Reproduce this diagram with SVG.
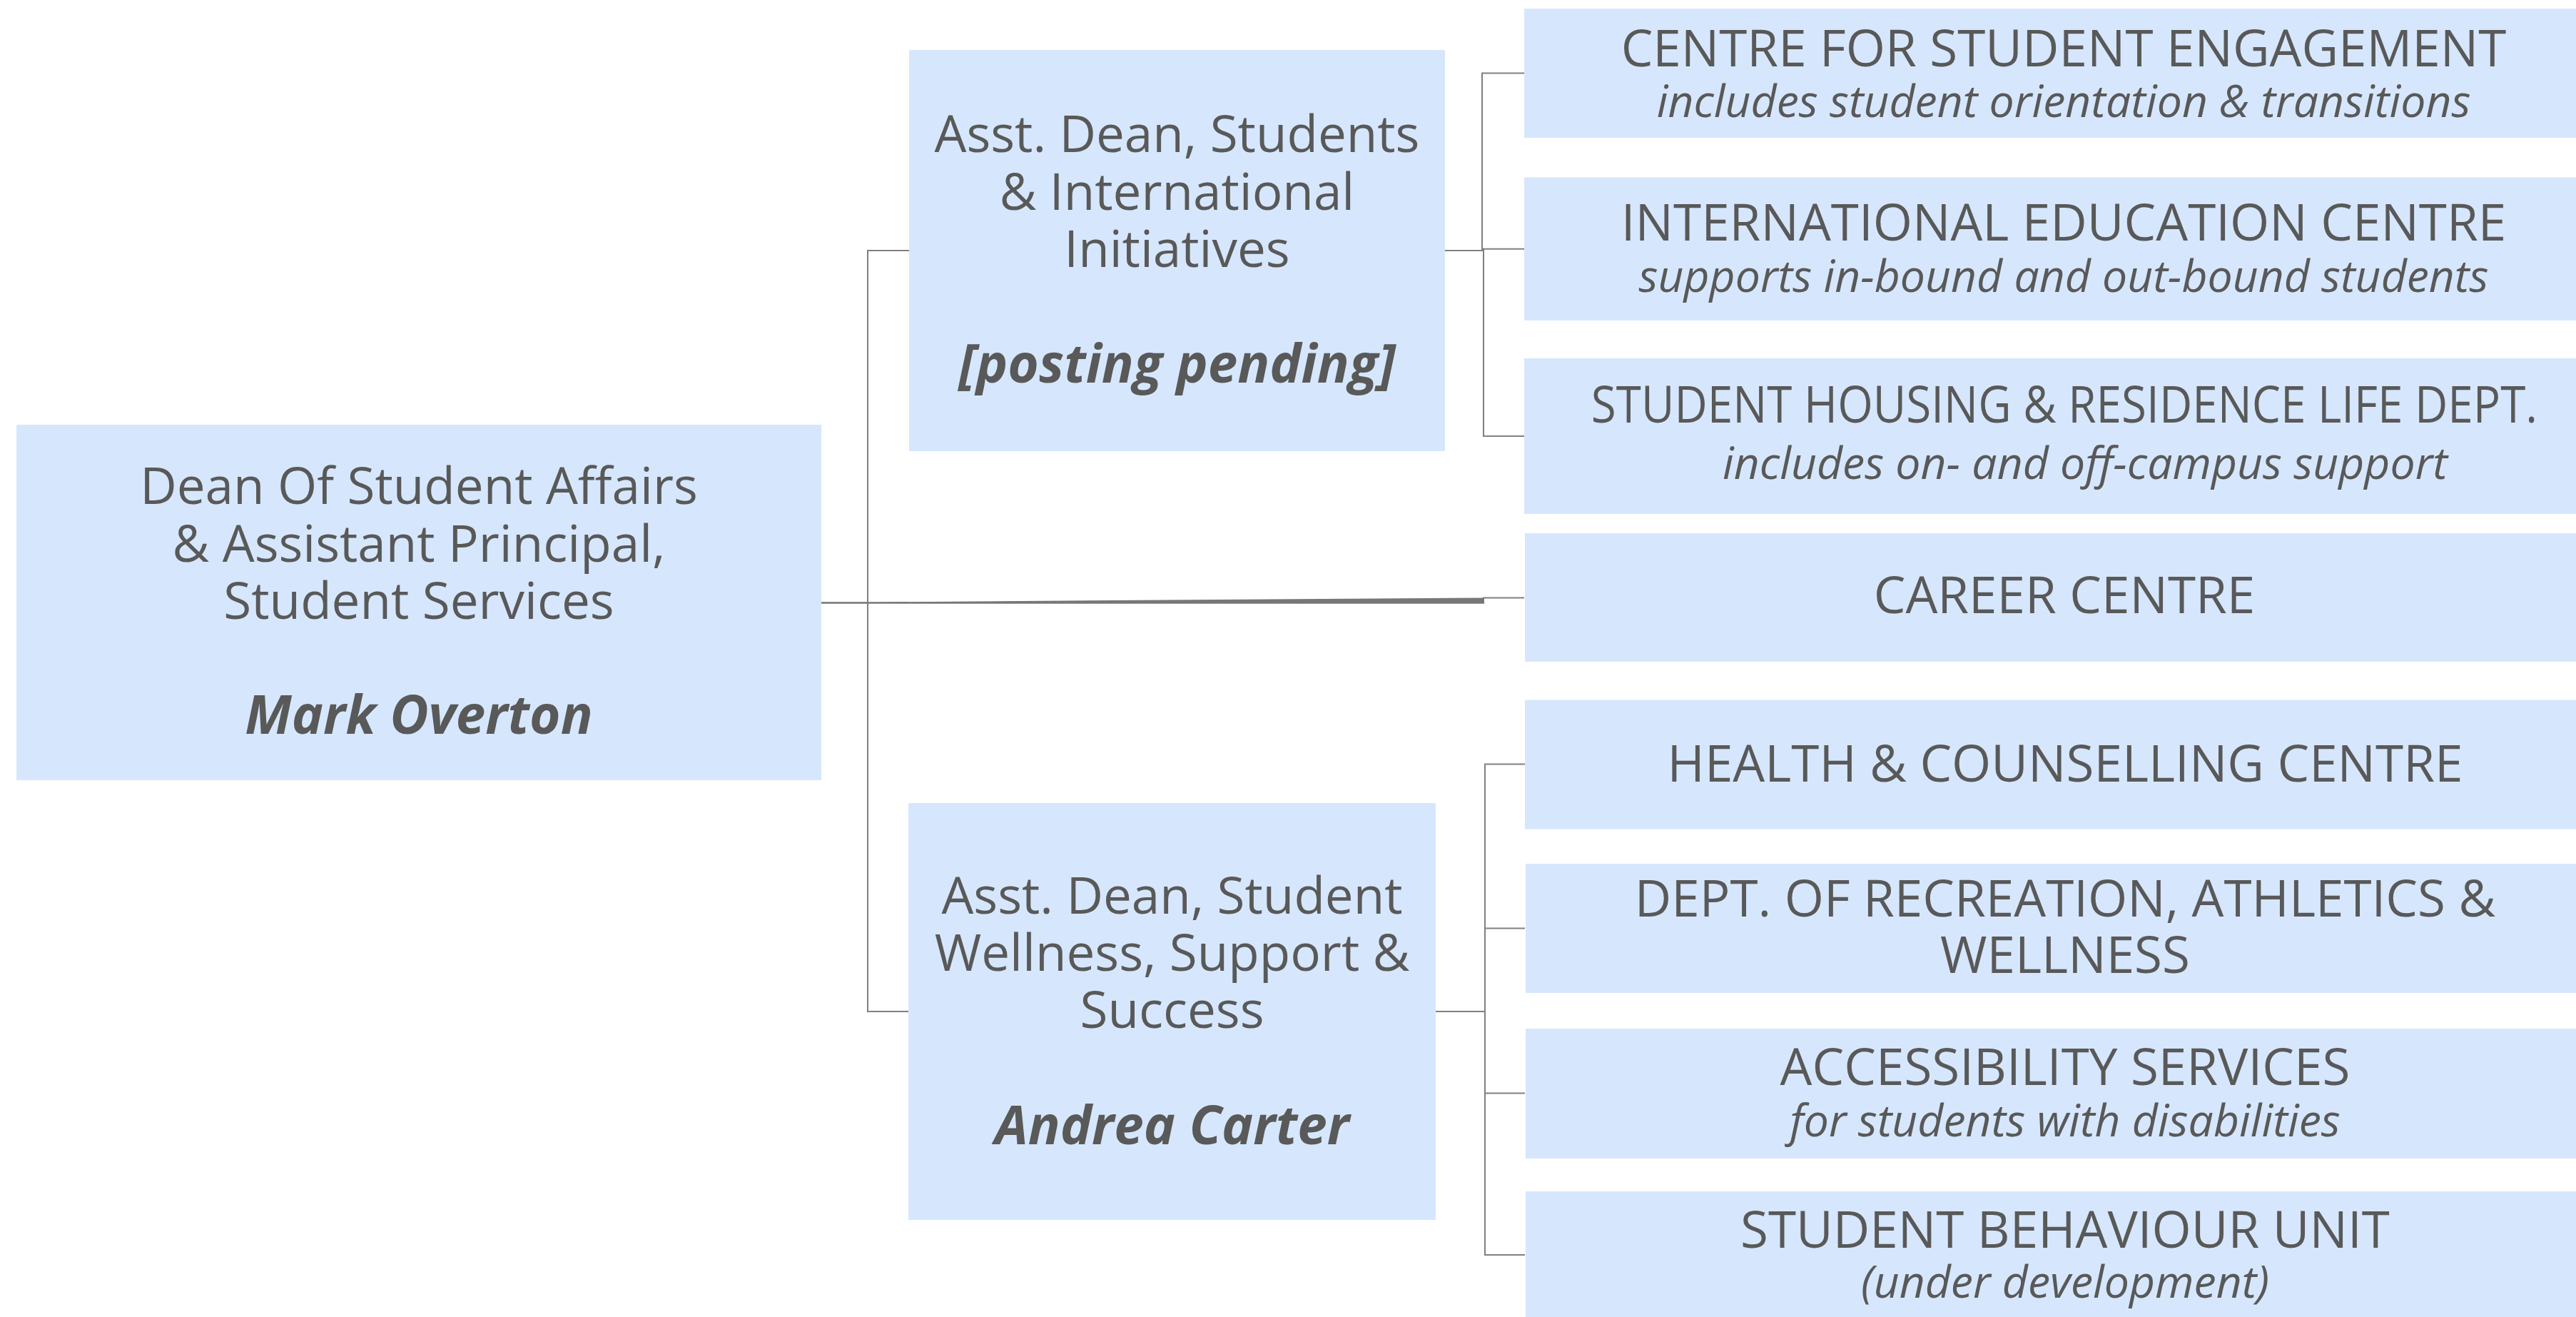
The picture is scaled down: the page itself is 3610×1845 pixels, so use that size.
<svg xmlns="http://www.w3.org/2000/svg" width="3610" height="1845" viewBox="0 0 3610 1845">
<style>
  .box { fill: #D6E7FD; }
  .t { font-family: "Open Sans", "Noto Sans", "Liberation Sans", sans-serif; font-size: 71px; fill: #595959; text-anchor: middle; }
  .s { font-family: "Open Sans", "Noto Sans", "Liberation Sans", sans-serif; font-size: 62.5px; font-style: italic; fill: #595959; text-anchor: middle; }
  .n { font-family: "Open Sans", "Noto Sans", "Liberation Sans", sans-serif; font-size: 74.5px; font-style: italic; font-weight: bold; fill: #595959; text-anchor: middle; }
  .c { fill: none; stroke: #808080; stroke-width: 2; }
</style>
<rect width="3610" height="1845" fill="#FFFFFF"/>
<g id="connectors">
  <path class="c" d="M1151,844.5 H1216 V351 H1274"/>
  <path class="c" d="M1151,844.5 H1216 V1417 H1273"/>
  <path class="c" d="M1151,844.5 H2079 V837.5 H2136"/>
  <path d="M1216,843.5 L2080,837.5 L2080,845.5 L1216,845.5 Z" fill="#777777"/>
  <path class="c" d="M2025,351 H2077 V102.5 H2136"/>
  <path class="c" d="M2025,351 H2079 V348.7 H2136"/>
  <path class="c" d="M2025,351 H2079 V611 H2136"/>
  <path class="c" d="M2012,1417 H2081 V1070.5 H2137"/>
  <path class="c" d="M2012,1417 H2081 V1300.5 H2137"/>
  <path class="c" d="M2012,1417 H2081 V1531.5 H2137"/>
  <path class="c" d="M2012,1417 H2081 V1758 H2137"/>
</g>
<g id="dean">
  <rect class="box" x="23" y="595" width="1128" height="498"/>
  <text class="t" x="587" y="706">Dean Of Student Affairs</text>
  <text class="t" x="587" y="787">&amp; Assistant Principal,</text>
  <text class="t" x="587" y="867">Student Services</text>
  <text class="n" x="587" y="1028">Mark Overton</text>
</g>
<g id="asst-dean-students">
  <rect class="box" x="1274" y="70" width="751" height="562"/>
  <text class="t" x="1649.5" y="213">Asst. Dean, Students</text>
  <text class="t" x="1649.5" y="294">&amp; International</text>
  <text class="t" x="1649.5" y="374">Initiatives</text>
  <text class="n" x="1649.5" y="536">[posting pending]</text>
</g>
<g id="asst-dean-wellness">
  <rect class="box" x="1273" y="1125" width="739" height="584"/>
  <text class="t" x="1642.5" y="1280">Asst. Dean, Student</text>
  <text class="t" x="1642.5" y="1360">Wellness, Support &amp;</text>
  <text class="t" x="1642.5" y="1440">Success</text>
  <text class="n" x="1642.5" y="1603">Andrea Carter</text>
</g>
<g id="engagement">
  <rect class="box" x="2136" y="12" width="1512" height="181"/>
  <text class="t" x="2892" y="93">CENTRE FOR STUDENT ENGAGEMENT</text>
  <text class="s" x="2892" y="164">includes student orientation &amp; transitions</text>
</g>
<g id="international">
  <rect class="box" x="2136" y="248.5" width="1512" height="200.5"/>
  <text class="t" x="2892" y="337">INTERNATIONAL EDUCATION CENTRE</text>
  <text class="s" x="2892" y="409">supports in-bound and out-bound students</text>
</g>
<g id="housing">
  <rect class="box" x="2136" y="502" width="1512" height="218"/>
  <text class="t" x="0" y="0" transform="translate(2893,592) scale(0.899,1)">STUDENT HOUSING &amp; RESIDENCE LIFE DEPT.</text>
  <text class="s" x="2922" y="671">includes on- and off-campus support</text>
</g>
<g id="career">
  <rect class="box" x="2137" y="747" width="1512" height="180"/>
  <text class="t" x="2893" y="859">CAREER CENTRE</text>
</g>
<g id="health">
  <rect class="box" x="2137" y="980.5" width="1512" height="181"/>
  <text class="t" x="2894" y="1095">HEALTH &amp; COUNSELLING CENTRE</text>
</g>
<g id="recreation">
  <rect class="box" x="2138" y="1210" width="1512" height="181"/>
  <text class="t" x="2894" y="1284">DEPT. OF RECREATION, ATHLETICS &amp;</text>
  <text class="t" x="2894" y="1363">WELLNESS</text>
</g>
<g id="accessibility">
  <rect class="box" x="2138" y="1441" width="1512" height="182"/>
  <text class="t" x="2894" y="1520">ACCESSIBILITY SERVICES</text>
  <text class="s" x="2894" y="1592">for students with disabilities</text>
</g>
<g id="behaviour">
  <rect class="box" x="2138" y="1669" width="1512" height="180"/>
  <text class="t" x="2894" y="1748">STUDENT BEHAVIOUR UNIT</text>
  <text class="s" x="2894" y="1818">(under development)</text>
</g>
</svg>
